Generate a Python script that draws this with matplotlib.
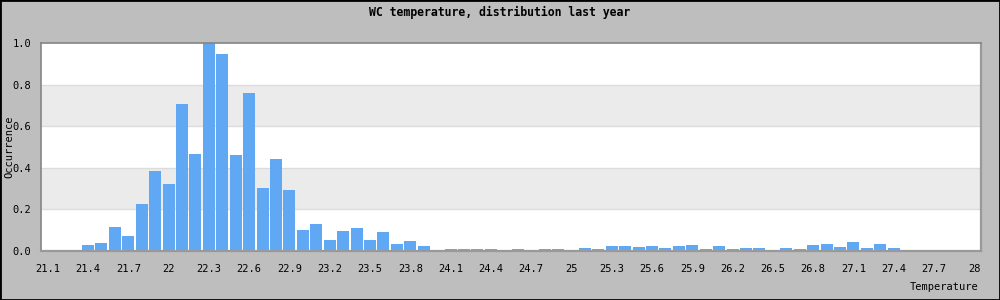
import numpy as np
import matplotlib
matplotlib.use('Agg')
from matplotlib import pyplot as plt
from matplotlib.patches import Rectangle

# temperature classes (0.1 degree bins)
temps = [
    21.1, 21.2, 21.3, 21.4, 21.5, 21.6, 21.7, 21.8, 21.9, 22.0,
    22.1, 22.2, 22.3, 22.4, 22.5, 22.6, 22.7, 22.8, 22.9, 23.0,
    23.1, 23.2, 23.3, 23.4, 23.5, 23.6, 23.7, 23.8, 23.9, 24.0,
    24.1, 24.2, 24.3, 24.4, 24.5, 24.6, 24.7, 24.8, 24.9, 25.0,
    25.1, 25.2, 25.3, 25.4, 25.5, 25.6, 25.7, 25.8, 25.9, 26.0,
    26.1, 26.2, 26.3, 26.4, 26.5, 26.6, 26.7, 26.8, 26.9, 27.0,
    27.1, 27.2, 27.3, 27.4, 27.5, 27.6, 27.7, 27.8, 27.9, 28.0,
]
# relative occurrence (max = 1)
occurrence = [
    0.0, 0.0, 0.007, 0.027, 0.038, 0.114, 0.070, 0.225, 0.385, 0.322,
    0.709, 0.467, 1.0, 0.946, 0.462, 0.762, 0.302, 0.443, 0.293, 0.099,
    0.128, 0.051, 0.094, 0.109, 0.051, 0.090, 0.036, 0.046, 0.022, 0.0,
    0.011, 0.011, 0.011, 0.011, 0.006, 0.011, 0.006, 0.011, 0.011, 0.006,
    0.016, 0.011, 0.026, 0.026, 0.021, 0.026, 0.016, 0.026, 0.031, 0.011,
    0.026, 0.011, 0.016, 0.016, 0.006, 0.016, 0.011, 0.031, 0.036, 0.021,
    0.041, 0.016, 0.036, 0.016, 0.006, 0.006, 0.0, 0.0, 0.0, 0.0,
]
yticks = [0.0, 0.2, 0.4, 0.6, 0.8, 1.0]

font = 'DejaVu Sans Mono'
plt.rcParams['font.family'] = font

fig = plt.figure(figsize=(10, 3), dpi=100, facecolor='#bebebe')
ax = fig.add_axes([0.041, 0.1633, 0.940, 0.6933])
ax.set_facecolor('white')

x = np.arange(len(temps))
# alternating bands + grid
for lo, hi in [(0.2, 0.4), (0.6, 0.8)]:
    ax.axhspan(lo, hi, color='#ebebeb', zorder=0, lw=0)
for y in yticks[1:-1]:
    ax.axhline(y, color='#dcdcdc', lw=1, zorder=0.5)

ax.bar(x, occurrence, width=0.89, color='#60a8f4', zorder=2)

ax.set_xlim(-0.5, len(temps) - 0.5)
ax.set_ylim(0, 1.0)
ax.set_yticks(yticks)
ax.set_yticklabels(['%.1f' % v for v in yticks])
ax.set_xticks(x[::3])
ax.set_xticklabels(['%g' % t for t in temps[::3]])
ax.tick_params(length=0, labelsize=7.5)
ax.tick_params(axis='y', pad=7)
ax.tick_params(axis='x', pad=9)

for side in ['top', 'left']:
    ax.spines[side].set_color('#858585')
    ax.spines[side].set_linewidth(1.2)
for side in ['bottom', 'right']:
    ax.spines[side].set_color('#999999')
    ax.spines[side].set_linewidth(1.6)

fig.text(0.5, 0.957, 'WC temperature, distribution last year', ha='center',
         va='center', fontsize=8.3, fontweight='bold')
fig.text(0.009, 0.51, 'Occurrence', rotation=90, ha='center', va='center',
         fontsize=7.5)
fig.text(0.979, 0.043, 'Temperature', ha='right', va='center', fontsize=7.5)

fig.patches.append(Rectangle((0, 0), 1, 1, transform=fig.transFigure,
                             fill=False, edgecolor='black', lw=2))

fig.savefig('out.png', dpi=100, facecolor=fig.get_facecolor())
